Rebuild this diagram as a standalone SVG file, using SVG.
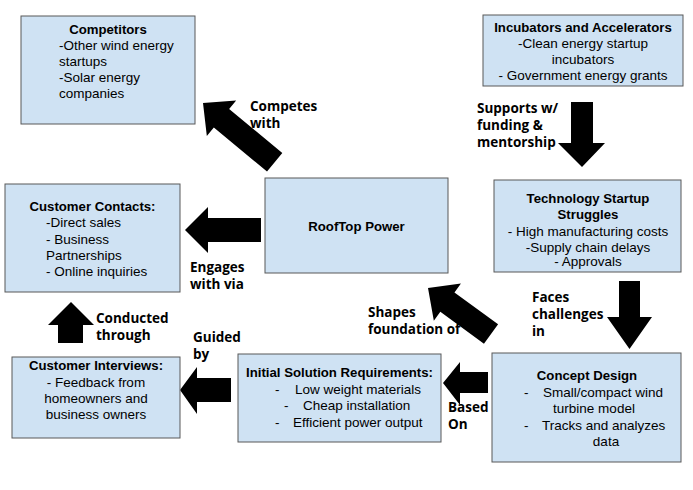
<svg xmlns="http://www.w3.org/2000/svg" width="693" height="490" viewBox="0 0 693 490">
<style>
.box{fill:#cfe2f3;stroke:#595959;stroke-width:1}
.t{font-family:"Liberation Sans",Arial,sans-serif;font-size:13.5px;fill:#000}
.h{font-weight:bold;font-size:13.2px}
.c{text-anchor:middle}
.lbl{font-family:"Open Sans","Liberation Sans",sans-serif;font-size:13.5px;font-weight:bold;fill:#000}
.arr{fill:#000}
</style>
<rect width="693" height="490" fill="#fff"/>
<g id="connectors">
<polygon class="arr" transform="translate(203,103) rotate(-140.4)" points="0,0 -24,-23 -24,-12 -93,-12 -93,12 -24,12 -24,23"/>
<polygon class="arr" transform="translate(428,288) rotate(-143.9)" points="0,0 -24,-23 -24,-12 -78,-12 -78,12 -24,12 -24,23"/>
<polygon class="arr" points="571,102 593,102 593,143 605,143 582,167 558,143 571,143"/>
<polygon class="arr" points="619,281 640,281 640,317 652,317 629.5,349 607,317 619,317"/>
<polygon class="arr" points="261,218 261,242 208,242 208,253 185,230 208,207 208,218"/>
<polygon class="arr" points="58,343 83,343 83,325 94,325 71,302 48,325 58,325"/>
<polygon class="arr" points="231,378 231,402 197,402 197,414 180,390 197,367 197,378"/>
<polygon class="arr" points="488,372 488,393 460,393 460,405 443,383 460,362 460,372"/>
<text class="lbl" x="250" y="111">Competes</text>
<text class="lbl" x="250" y="128">with</text>
<text class="lbl" x="477" y="113">Supports w/</text>
<text class="lbl" x="477" y="130">funding &amp;</text>
<text class="lbl" x="477" y="147">mentorship</text>
<text class="lbl" x="190" y="272">Engages</text>
<text class="lbl" x="190" y="289">with via</text>
<text class="lbl" x="96" y="323">Conducted</text>
<text class="lbl" x="96" y="340">through</text>
<text class="lbl" x="193" y="342">Guided</text>
<text class="lbl" x="193" y="359">by</text>
<text class="lbl" x="368" y="317">Shapes</text>
<text class="lbl" x="368" y="334">foundation of</text>
<text class="lbl" x="448" y="412">Based</text>
<text class="lbl" x="448" y="429">On</text>
<text class="lbl" x="532" y="302">Faces</text>
<text class="lbl" x="532" y="319">challenges</text>
<text class="lbl" x="532" y="336">in</text>
</g>
<g id="competitors">
<rect class="box" x="21" y="16" width="174" height="108"/>
<text class="t h c" x="108" y="34">Competitors</text>
<text class="t" x="59" y="50">-Other wind energy</text>
<text class="t" x="59" y="66">startups</text>
<text class="t" x="59" y="82">-Solar energy</text>
<text class="t" x="59" y="98">companies</text>
</g>
<g id="incubators">
<rect class="box" x="483" y="15" width="200" height="71"/>
<text class="t h c" x="583" y="31.5">Incubators and Accelerators</text>
<text class="t c" x="583" y="47.5">-Clean energy startup</text>
<text class="t c" x="583" y="63.5">incubators</text>
<text class="t c" x="583" y="80">- Government energy grants</text>
</g>
<g id="rooftop">
<rect class="box" x="265" y="178" width="183" height="95"/>
<text class="t h c" x="356.5" y="231">RoofTop Power</text>
</g>
<g id="tech-struggles">
<rect class="box" x="494" y="180" width="187" height="92"/>
<text class="t h c" x="588" y="203">Technology Startup</text>
<text class="t h c" x="588" y="219">Struggles</text>
<text class="t c" x="588" y="235.5">- High manufacturing costs</text>
<text class="t c" x="588" y="251.5">-Supply chain delays</text>
<text class="t c" x="588" y="266">- Approvals</text>
</g>
<g id="customer-contacts">
<rect class="box" x="5" y="184" width="175" height="108"/>
<text class="t h c" x="92.5" y="211">Customer Contacts:</text>
<text class="t" x="46" y="227">-Direct sales</text>
<text class="t" x="46" y="243.5">- Business</text>
<text class="t" x="46" y="259.5">Partnerships</text>
<text class="t" x="46" y="276">- Online inquiries</text>
</g>
<g id="customer-interviews">
<rect class="box" x="12" y="357" width="168" height="81"/>
<text class="t h c" x="96" y="370">Customer Interviews:</text>
<text class="t c" x="96" y="386.5">- Feedback from</text>
<text class="t c" x="96" y="403">homeowners and</text>
<text class="t c" x="96" y="419">business owners</text>
</g>
<g id="initial-requirements">
<rect class="box" x="238" y="354" width="203" height="88"/>
<text class="t h c" x="339.5" y="377">Initial Solution Requirements:</text>
<text class="t" x="275" y="393.5">-</text>
<text class="t" x="295" y="393.5">Low weight materials</text>
<text class="t" x="284" y="410">-</text>
<text class="t" x="303" y="410">Cheap installation</text>
<text class="t" x="275" y="426.5">-</text>
<text class="t" x="293" y="426.5">Efficient power output</text>
</g>
<g id="concept-design">
<rect class="box" x="492" y="353" width="189" height="109"/>
<text class="t h c" x="587" y="380">Concept Design</text>
<text class="t" x="524" y="396.5">-</text>
<text class="t" x="543" y="396.5">Small/compact wind</text>
<text class="t c" x="594" y="413">turbine model</text>
<text class="t" x="524" y="429.5">-</text>
<text class="t" x="542" y="429.5">Tracks and analyzes</text>
<text class="t c" x="606" y="446">data</text>
</g>
</svg>
